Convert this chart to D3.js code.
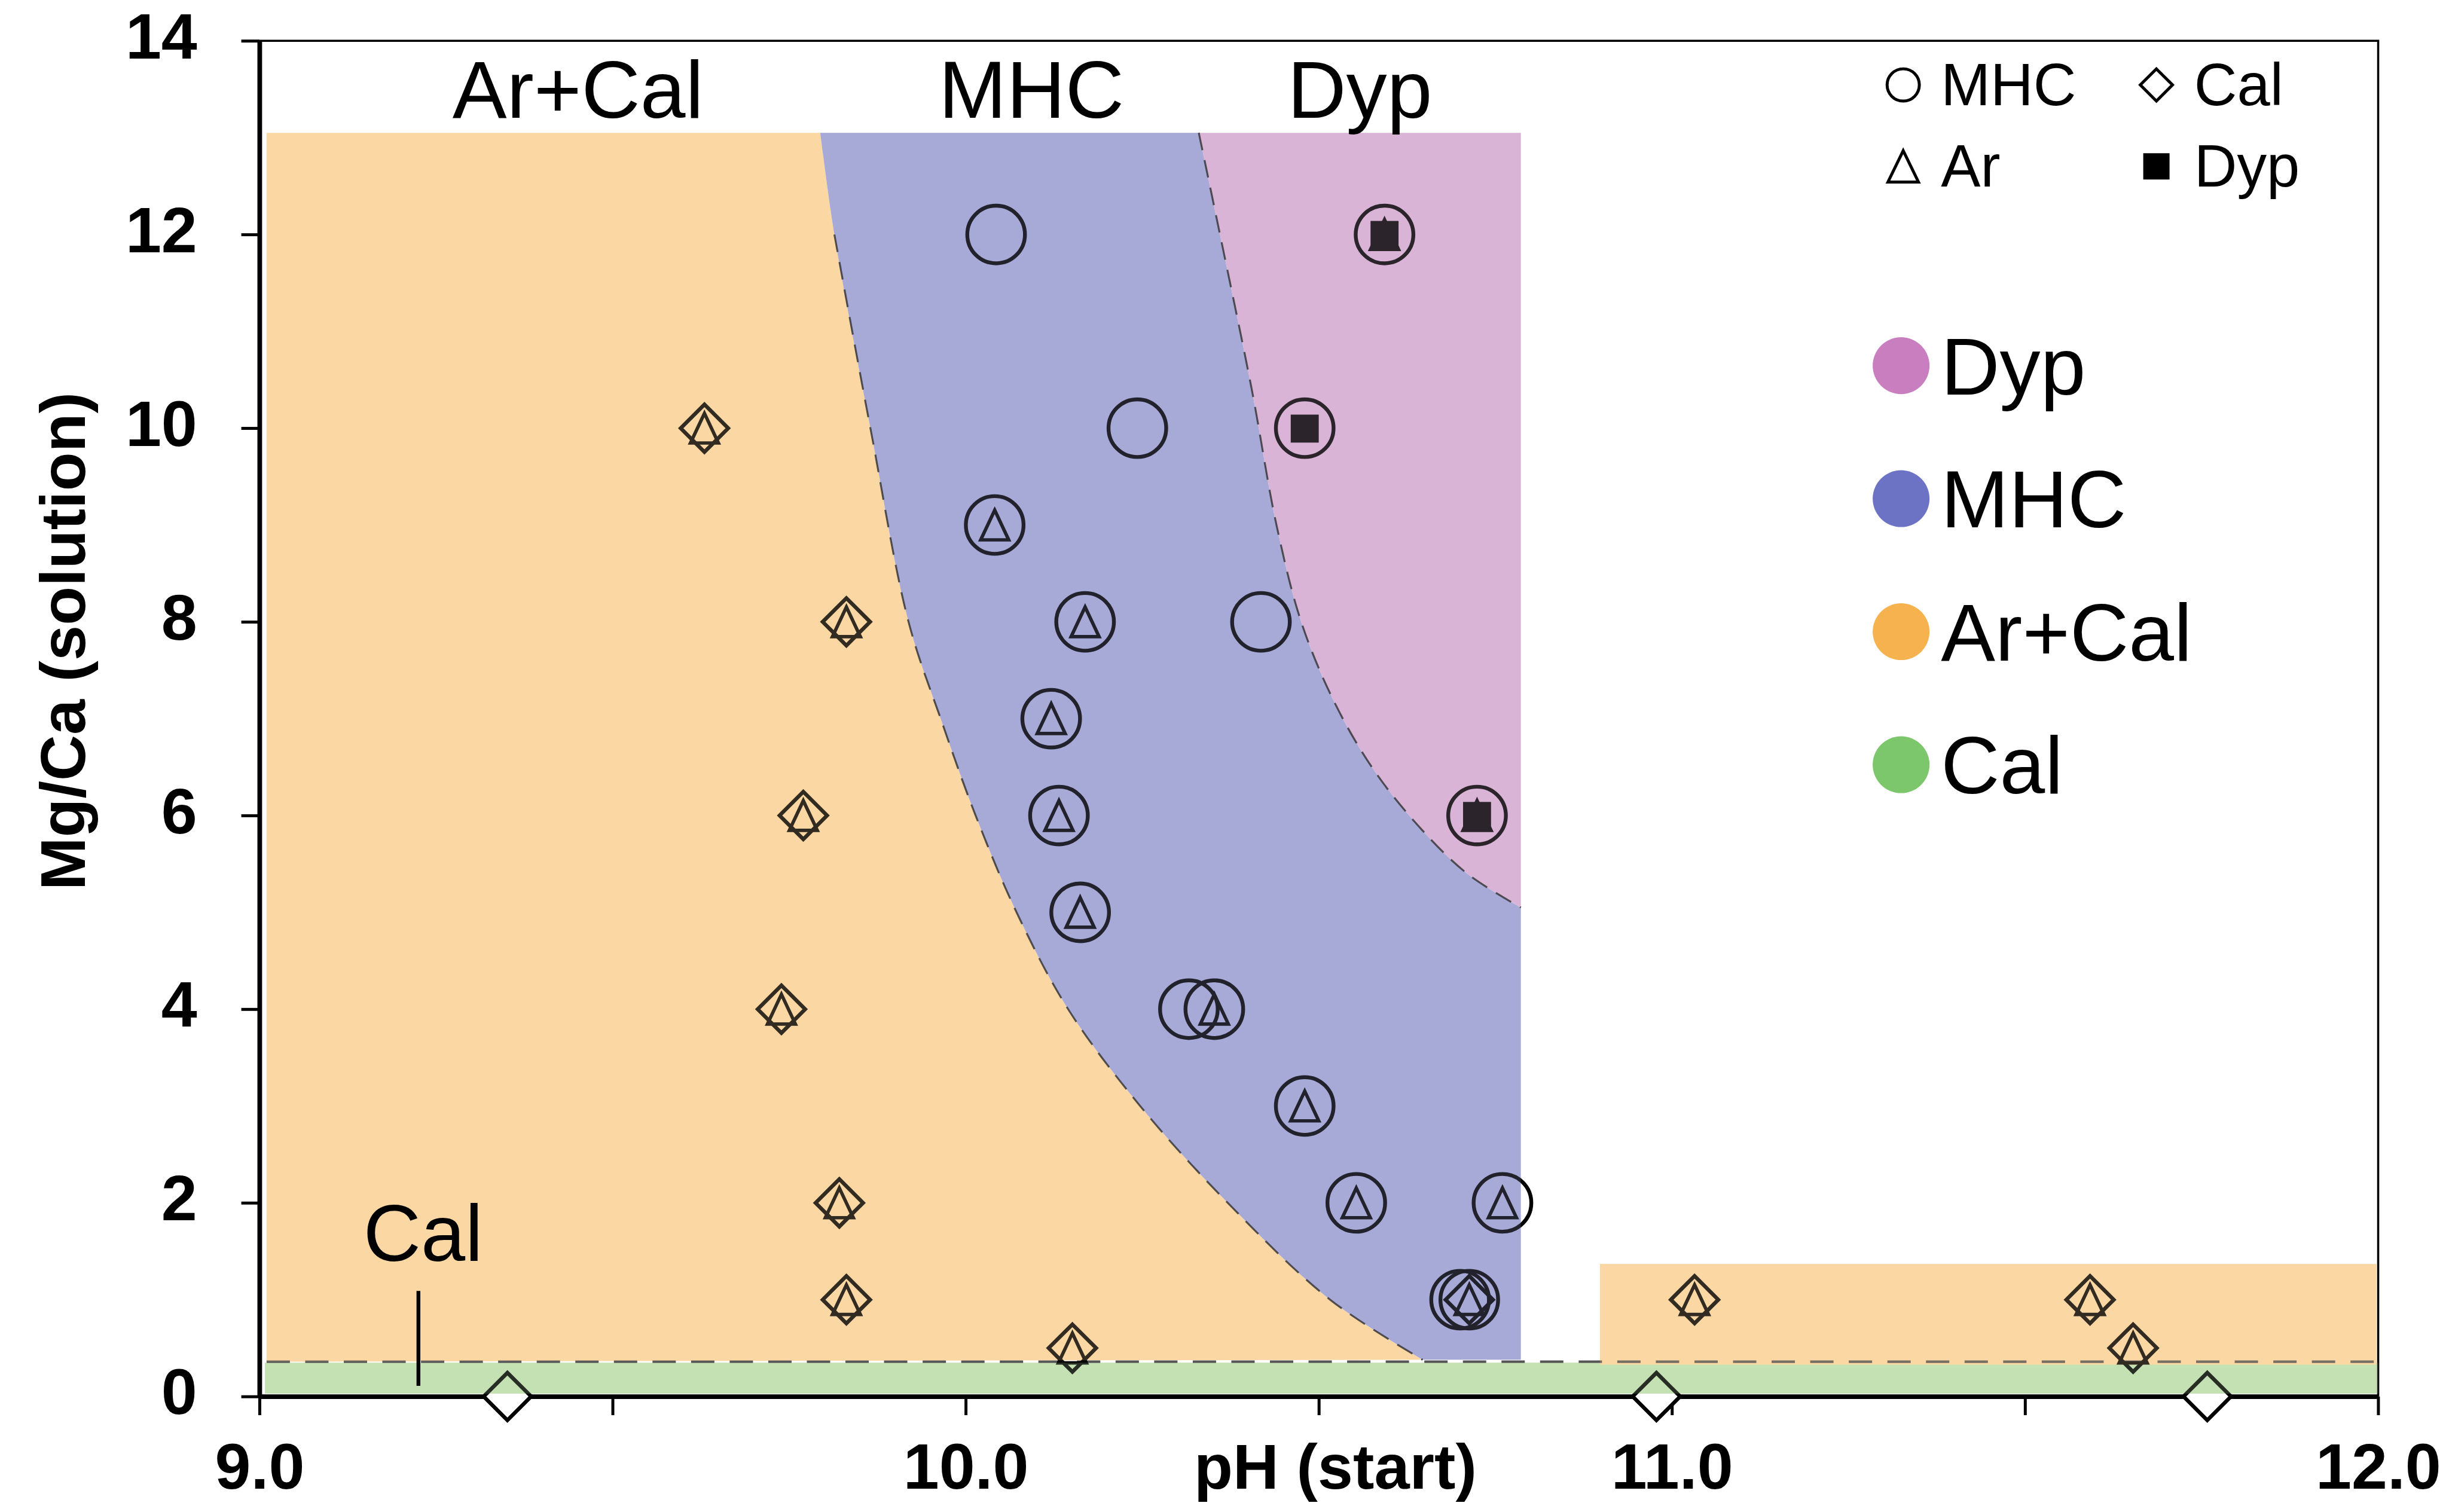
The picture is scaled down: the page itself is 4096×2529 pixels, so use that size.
<!DOCTYPE html>
<html>
<head>
<meta charset="utf-8">
<script src="https://cdn.jsdelivr.net/npm/d3@7"></script>
<style>
  html, body { margin: 0; padding: 0; background: #fff; }
  svg { display: block; }
  text { font-family: "Liberation Sans", Arial, sans-serif; fill: #000; }
</style>
</head>
<body>
<svg id="chart"></svg>
<script>
// phases found in each experiment, as [pH (start), Mg/Ca (solution)]
const mhcPts = [
  [10.043, 12], [10.243, 10], [10.418, 8], [10.316, 4], [10.70, 1],
  [10.041, 9], [10.169, 8], [10.121, 7], [10.132, 6], [10.162, 5],
  [10.352, 4], [10.48, 3], [10.553, 2], [10.76, 2], [10.713, 1],
  [10.48, 10], [10.593, 12], [10.724, 6]
];
const arPts = [
  [9.63, 10], [9.831, 8], [9.77, 6], [9.739, 4], [9.821, 2], [9.831, 1],
  [10.151, 0.5], [11.032, 1], [11.592, 1], [11.653, 0.5],
  [10.041, 9], [10.169, 8], [10.121, 7], [10.132, 6], [10.162, 5],
  [10.352, 4], [10.48, 3], [10.553, 2], [10.76, 2], [10.713, 1],
  [10.593, 12], [10.724, 6]
];
const calPts = [
  [9.63, 10], [9.831, 8], [9.77, 6], [9.739, 4], [9.821, 2], [9.831, 1],
  [10.151, 0.5], [11.032, 1], [11.592, 1], [11.653, 0.5],
  [9.351, 0], [10.978, 0], [11.758, 0], [10.713, 1]
];
const dypPts = [[10.593, 12], [10.48, 10], [10.724, 6]];

// field boundaries (dashed curves)
const arMhcBoundary = [
  [9.794, 13.05], [9.814, 12], [9.865, 10], [9.919, 8], [9.966, 6.97],
  [10.014, 6], [10.072, 5], [10.145, 4], [10.247, 3], [10.371, 2],
  [10.516, 1], [10.647, 0.38]
];
const mhcDypBoundary = [
  [10.330, 13.05], [10.36, 12], [10.405, 10.4], [10.44, 9], [10.475, 8],
  [10.52, 7.2], [10.575, 6.5], [10.64, 5.9], [10.71, 5.4], [10.786, 5.05]
];
const fieldTop = 13.05;
const fieldLeft = 9.01;
const calTop = 0.35;
const calLine = 0.36;
const mhcRight = 10.786;
const highPhBox = [10.898, 12.0, 0.33, 1.37];

const xTicks = d3.range(9, 12.01, 0.5);
const yTicks = d3.range(0, 14.1, 2);

const fieldLabels = [["Ar+Cal", 9.451], ["MHC", 10.093], ["Dyp", 10.558]];
const legendNames = ["Dyp", "MHC", "Ar+Cal", "Cal"];
const legendColors = ["#c97ec0", "#6c73c5", "#f6b24f", "#7cc66b"];
const fieldColors = { dyp: "#d9b4d6", mhc: "#a7aad7", arcal: "#fbd7a3", cal: "#c4e2b2" };

const W = 5775, H = 3565;
const svg = d3.select("#chart")
  .attr("width", 4096).attr("height", 2529)
  .attr("viewBox", `0 0 ${W} ${H}`);

const x = d3.scaleLinear().domain([9, 12]).range([612, 5608]);
const y = d3.scaleLinear().domain([0, 14]).range([3293, 96]);

const curve = d3.line()
  .x(d => x(d[0])).y(d => y(d[1]))
  .curve(d3.curveCatmullRom.alpha(0.5));

const b1 = curve(arMhcBoundary);
const b2 = curve(mhcDypBoundary);
const b2rev = curve(mhcDypBoundary.slice().reverse());
const b2end = mhcDypBoundary[mhcDypBoundary.length - 1];

// field shapes
const fields = [
  { fill: fieldColors.cal,
    d: `M${x(fieldLeft) - 4},${y(0.03)}H${x(12)}V${y(calTop)}H${x(fieldLeft) - 4}Z` },
  { fill: fieldColors.arcal,
    d: `M${x(fieldLeft)},${y(fieldTop)}L` + b1.slice(1) + `L${x(fieldLeft)},${y(calLine)}Z` },
  { fill: fieldColors.mhc,
    d: b1 + `L${x(mhcRight)},${y(0.38)}L${x(mhcRight)},${y(b2end[1])}L` + b2rev.slice(1) + "Z" },
  { fill: fieldColors.dyp,
    d: b2 + `L${x(mhcRight)},${y(fieldTop)}Z` },
  { fill: fieldColors.arcal,
    d: `M${x(highPhBox[0])},${y(highPhBox[3])}H${x(highPhBox[1]) - 4}V${y(highPhBox[2])}H${x(highPhBox[0])}Z` }
];

const gFields = svg.append("g");
gFields.selectAll("path").data(fields).join("path")
  .attr("d", d => d.d).attr("fill", d => d.fill);

// dashed boundaries
const gDash = svg.append("g").attr("fill", "none");
gDash.append("path").attr("d", curve(arMhcBoundary.slice(1)))
  .attr("stroke", "#333").attr("stroke-width", 4.5).attr("stroke-dasharray", "42 24");
gDash.append("path").attr("d", b2)
  .attr("stroke", "#333").attr("stroke-width", 4.5).attr("stroke-dasharray", "42 24");
gDash.append("line")
  .attr("x1", x(9.01)).attr("x2", x(12) - 6)
  .attr("y1", y(calLine)).attr("y2", y(calLine))
  .attr("stroke", "#555").attr("stroke-width", 6).attr("stroke-dasharray", "55 36");

// frame (top / right)
svg.append("path")
  .attr("d", `M${x(9)},${y(14)}H${x(12)}V${y(0)}`)
  .attr("fill", "none").attr("stroke", "#000").attr("stroke-width", 5);

// axes
const xAxis = d3.axisBottom(x).tickValues(xTicks).tickSize(44).tickSizeOuter(0).tickPadding(66)
  .tickFormat(d => Number.isInteger(d) ? d.toFixed(1) : "");
const yAxis = d3.axisLeft(y).tickValues(yTicks).tickSize(43).tickSizeOuter(0).tickPadding(104)
  .tickFormat(d3.format("d"));

const gx = svg.append("g").attr("transform", `translate(0,${y(0)})`).call(xAxis);
const gy = svg.append("g").attr("transform", `translate(${x(9)},0)`).call(yAxis);
[gx, gy].forEach(g => {
  g.select(".domain").attr("stroke", "#000").attr("stroke-width", 11);
  g.selectAll(".tick line").attr("stroke", "#000").attr("stroke-width", 7);
  g.selectAll(".tick text")
    .attr("font-size", 152).attr("font-weight", "bold")
    .attr("font-family", "'Liberation Sans', Arial, sans-serif").attr("fill", "#000");
});
gy.selectAll(".tick text").attr("dy", "0.27em");

// axis titles
svg.append("text")
  .attr("x", 3149).attr("y", 3510)
  .attr("text-anchor", "middle").attr("font-size", 150).attr("font-weight", "bold")
  .text("pH (start)");
svg.append("text")
  .attr("transform", `translate(200,${y(7.8)}) rotate(-90)`)
  .attr("text-anchor", "middle").attr("font-size", 150).attr("font-weight", "bold")
  .text("Mg/Ca (solution)");

// marker shapes
const triPath = (hb, hh) => `M0,${-hh}L${hb},${hh}L${-hb},${hh}Z`;
const diaPath = r => `M0,${-r}L${r},0L0,${r}L${-r},0Z`;

// white under-fill of Cal diamonds that sit on the axis
svg.append("clipPath").attr("id", "belowAxis")
  .append("rect").attr("x", 0).attr("y", y(0) - 7).attr("width", W).attr("height", H);
svg.append("g").attr("clip-path", "url(#belowAxis)")
  .selectAll("path").data(calPts.filter(d => d[1] === 0)).join("path")
  .attr("transform", d => `translate(${x(d[0])},${y(d[1])})`)
  .attr("d", diaPath(56)).attr("fill", "#fff");

const gMarks = svg.append("g").attr("fill", "none").attr("stroke", "#000")
  .attr("stroke-linejoin", "miter");
gMarks.selectAll(".mhc").data(mhcPts).join("circle").attr("class", "mhc")
  .attr("cx", d => x(d[0])).attr("cy", d => y(d[1])).attr("r", 68)
  .attr("stroke-width", 9);
gMarks.selectAll(".cal").data(calPts).join("path").attr("class", "cal")
  .attr("transform", d => `translate(${x(d[0])},${y(d[1])})`)
  .attr("d", diaPath(56)).attr("stroke-width", 9);
gMarks.selectAll(".ar").data(arPts).join("path").attr("class", "ar")
  .attr("transform", d => `translate(${x(d[0])},${y(d[1])})`)
  .attr("d", triPath(33, 35)).attr("stroke-width", 8);
gMarks.selectAll(".dyp").data(dypPts).join("rect").attr("class", "dyp")
  .attr("x", d => x(d[0]) - 31).attr("y", d => y(d[1]) - 30)
  .attr("width", 62).attr("height", 62)
  .attr("fill", "#000").attr("stroke-width", 4);

// tint of the fields over the symbols
svg.append("g").attr("opacity", 0.2)
  .selectAll("path").data(fields).join("path")
  .attr("d", d => d.d).attr("fill", d => d.fill);

// field names
svg.append("g").selectAll("text").data(fieldLabels).join("text")
  .attr("x", d => x(d[1])).attr("y", 278)
  .attr("text-anchor", "middle").attr("font-size", 192)
  .text(d => d[0]);

svg.append("text").attr("x", x(9.147)).attr("y", y(1.40))
  .attr("font-size", 188).text("Cal");
svg.append("line")
  .attr("x1", x(9.225)).attr("x2", x(9.225))
  .attr("y1", y(1.09)).attr("y2", y(0.11))
  .attr("stroke", "#000").attr("stroke-width", 9);

// symbol legend
const symLegend = [
  { name: "MHC", cx: 4488, cy: 200, shape: "circle" },
  { name: "Cal", cx: 5085, cy: 200, shape: "diamond" },
  { name: "Ar", cx: 4488, cy: 392, shape: "triangle" },
  { name: "Dyp", cx: 5085, cy: 392, shape: "square" }
];
const gSym = svg.append("g");
symLegend.forEach(s => {
  if (s.shape === "circle") {
    gSym.append("circle").attr("cx", s.cx).attr("cy", s.cy).attr("r", 38)
      .attr("fill", "none").attr("stroke", "#000").attr("stroke-width", 7);
  } else if (s.shape === "diamond") {
    gSym.append("path").attr("transform", `translate(${s.cx},${s.cy})`)
      .attr("d", diaPath(38)).attr("fill", "none").attr("stroke", "#000").attr("stroke-width", 7);
  } else if (s.shape === "triangle") {
    gSym.append("path").attr("transform", `translate(${s.cx},${s.cy})`)
      .attr("d", triPath(36, 37)).attr("fill", "none").attr("stroke", "#000").attr("stroke-width", 7);
  } else {
    gSym.append("rect").attr("x", s.cx - 31).attr("y", s.cy - 31)
      .attr("width", 62).attr("height", 62).attr("fill", "#000");
  }
  gSym.append("text").attr("x", s.cx + 89).attr("y", s.cy + 48)
    .attr("font-size", 140).text(s.name);
});

// colour legend
const gLeg = svg.append("g");
const legY = d3.scalePoint().domain(legendNames).range([862, 1803]);
gLeg.selectAll("circle").data(legendNames).join("circle")
  .attr("cx", 4483).attr("cy", d => legY(d)).attr("r", 67)
  .attr("fill", (d, i) => legendColors[i]);
gLeg.selectAll("text").data(legendNames).join("text")
  .attr("x", 4577).attr("y", d => legY(d) + 68)
  .attr("font-size", 192).text(d => d);
</script>
</body>
</html>
